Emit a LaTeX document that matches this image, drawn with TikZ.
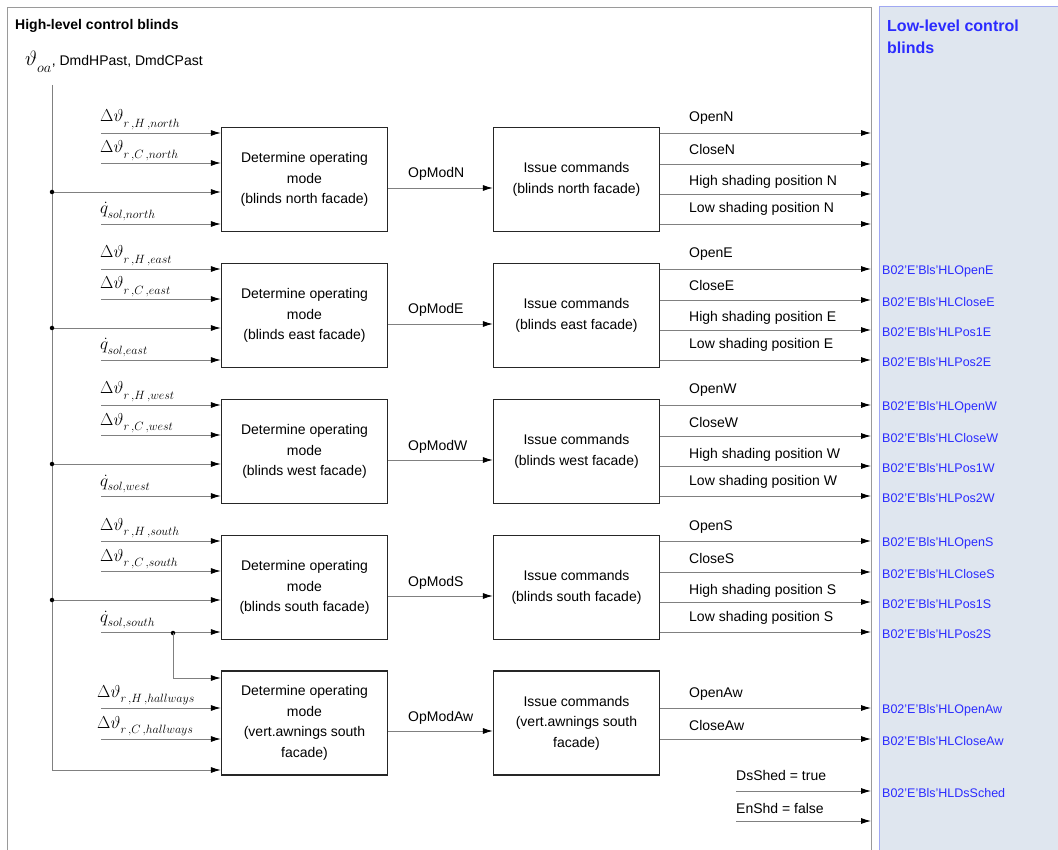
\documentclass[tikz,border=0pt]{standalone}
\usepackage{fontspec}
\setmainfont{Liberation Sans}
\usetikzlibrary{arrows.meta}
\DeclareMathSizes{18}{18}{13}{10}
\DeclareMathSizes{21}{21}{14}{11}
\newcommand\lsub[2][2.5pt]{_{\lower#1\hbox{$\scriptstyle #2$}}}
\definecolor{lowfill}{HTML}{DFE6EF}
\definecolor{lowborder}{HTML}{A0A8F2}
\definecolor{lowtext}{HTML}{2B2BFF}
\definecolor{wiregray}{HTML}{808080}
\definecolor{framegray}{HTML}{9A9A9A}
\tikzset{
  blk/.style={draw=black!85, line width=1.3pt, minimum width=166pt, minimum height=104pt,
    align=center, inner sep=0pt, font=\fontsize{14}{20.5}\selectfont},
  wire/.style={draw=wiregray, line width=0.9pt},
  arr/.style={wire, -{Latex[length=10pt,width=6pt,color=black]}},
  lbl/.style={font=\fontsize{14}{16}\selectfont, inner sep=0pt, anchor=base west},
  mlbl/.style={font=\fontsize{18}{18}\selectfont, inner sep=0pt, anchor=base west},
  bluelbl/.style={font=\fontsize{12.5}{14}\selectfont, text=lowtext, inner sep=0pt, anchor=west},
  dot/.style={circle, fill=black, inner sep=0pt, minimum size=4.5pt},
}
\begin{document}
\begin{tikzpicture}[x=1pt,y=-1pt]
\useasboundingbox (0,0) rectangle (1058,850);
% frames
\draw[framegray, line width=0.9pt] (7,852) -- (7,7) -- (871,7) -- (871,852);
\filldraw[fill=lowfill, draw=lowborder, line width=1pt] (879,7) rectangle (1062,854);
\node[lbl, font=\bfseries\fontsize{14}{16}\selectfont] (title) at (15,29.5) {High-level control blinds};
\node[lbl, font=\bfseries\fontsize{16}{18}\selectfont, text=lowtext] (lowtitleA) at (887,32) {Low-level control};
\node[lbl, font=\bfseries\fontsize{16}{18}\selectfont, text=lowtext] (lowtitleB) at (887,54) {blinds};
% global input
\node[mlbl, font=\fontsize{21}{21}\selectfont] (oa) at (25,66) {$\vartheta\lsub[3pt]{oa}$\fontsize{14}{16}\selectfont, DmdHPast, DmdCPast};
\coordinate (vtop) at (52,85);
\coordinate (vbot) at (52,770);
\draw[wire] (vtop) -- (vbot);
% rows
\foreach \r/\T/\dir/\L/\show in {N/127/north/N/0, E/263/east/E/1, W/399/west/W/1, S/535/south/S/1}{
  \node[blk] (det\r) at (304.5,\T+52.5) {Determine operating\\mode\\(blinds \dir\ facade)};
  \node[blk] (iss\r) at (576.5,\T+52.5) {Issue commands\\(blinds \dir\ facade)};
  % inputs
  \coordinate (inH\r) at (101,\T+6);
  \coordinate (inC\r) at (101,\T+36);
  \coordinate (j\r) at (52,\T+65);
  \coordinate (inQ\r) at (101,\T+97);
  \draw[arr] (inH\r) -- (det\r.west |- inH\r);
  \draw[arr] (inC\r) -- (det\r.west |- inC\r);
  \draw[arr] (j\r) -- (det\r.west |- j\r);
  \draw[arr] (inQ\r) -- (det\r.west |- inQ\r);
  \node[dot] (dot\r) at (j\r) {};
  \node[mlbl] (lH\r) at (100,\T-5) {$\Delta\vartheta\lsub{r\,,H\,,\dir}$};
  \node[mlbl] (lC\r) at (100,\T+26) {$\Delta\vartheta\lsub{r\,,C\,,\dir}$};
  \node[mlbl] (lQ\r) at (100,\T+87) {$\dot q\lsub[1.5pt]{sol,\dir}$};
  % mode
  \coordinate (m\r) at (det\r.east |- 0,\T+61);
  \draw[arr] (m\r) -- (iss\r.west |- m\r);
  \node[lbl] (om\r) at (408,\T+51) {OpMod\L};
  % outputs
  \coordinate (o1\r) at (871,\T+6);
  \coordinate (o2\r) at (871,\T+37);
  \coordinate (o3\r) at (871,\T+67);
  \coordinate (o4\r) at (871,\T+97);
  \draw[arr] (iss\r.east |- o1\r) -- (o1\r);
  \draw[arr] (iss\r.east |- o2\r) -- (o2\r);
  \draw[arr] (iss\r.east |- o3\r) -- (o3\r);
  \draw[arr] (iss\r.east |- o4\r) -- (o4\r);
  \node[lbl] (t1\r) at (689,\T-5) {Open\L};
  \node[lbl] (t2\r) at (689,\T+28) {Close\L};
  \node[lbl] (t3\r) at (689,\T+59) {High shading position \L};
  \node[lbl] (t4\r) at (689,\T+86) {Low shading position \L};
  \ifnum\show=1
    \node[bluelbl] (b1\r) at (882,\T+8) {B02’E’Bls’HLOpen\L};
    \node[bluelbl] (b2\r) at (882,\T+39) {B02’E’Bls’HLClose\L};
    \node[bluelbl] (b3\r) at (882,\T+69) {B02’E’Bls’HLPos1\L};
    \node[bluelbl] (b4\r) at (882,\T+99) {B02’E’Bls’HLPos2\L};
  \fi
}
% awnings row
\node[blk] (detAw) at (304.5,723) {Determine operating\\mode\\(vert.awnings south\\facade)};
\node[blk] (issAw) at (576.5,723) {Issue commands\\(vert.awnings south\\facade)};
\coordinate (qs) at (173,633);
\node[dot] (dotQ) at (qs) {};
\coordinate (qbend) at (173,678);
\draw[arr] (qs) -- (qbend) -- (detAw.west |- qbend);
\coordinate (inHAw) at (101,708);
\coordinate (inCAw) at (101,739);
\draw[arr] (inHAw) -- (detAw.west |- inHAw);
\draw[arr] (inCAw) -- (detAw.west |- inCAw);
\draw[arr] (vbot) -- (detAw.west |- vbot);
\node[mlbl] (lHAw) at (97,697) {$\Delta\vartheta\lsub{r\,,H\,,hallways}$};
\node[mlbl] (lCAw) at (97,728) {$\Delta\vartheta\lsub{r\,,C\,,hallways}$};
\coordinate (mAw) at (detAw.east |- 0,731);
\draw[arr] (mAw) -- (issAw.west |- mAw);
\node[lbl] (omAw) at (408,721) {OpModAw};
\coordinate (o1Aw) at (871,708);
\coordinate (o2Aw) at (871,739);
\draw[arr] (issAw.east |- o1Aw) -- (o1Aw);
\draw[arr] (issAw.east |- o2Aw) -- (o2Aw);
\node[lbl] (t1Aw) at (689,697) {OpenAw};
\node[lbl] (t2Aw) at (689,730) {CloseAw};
\node[bluelbl] (b1Aw) at (882,710) {B02’E’Bls’HLOpenAw};
\node[bluelbl] (b2Aw) at (882,741) {B02’E’Bls’HLCloseAw};
% constants
\coordinate (ds0) at (736,791);
\coordinate (ds1) at (871,791);
\coordinate (en0) at (736,821);
\coordinate (en1) at (871,821);
\draw[arr] (ds0) -- (ds1);
\draw[arr] (en0) -- (en1);
\node[lbl] (tds) at (736,780) {DsShed = true};
\node[lbl] (ten) at (736,813) {EnShd = false};
\node[bluelbl] (bds) at (882,793) {B02’E’Bls’HLDsSched};
\end{tikzpicture}
\end{document}
